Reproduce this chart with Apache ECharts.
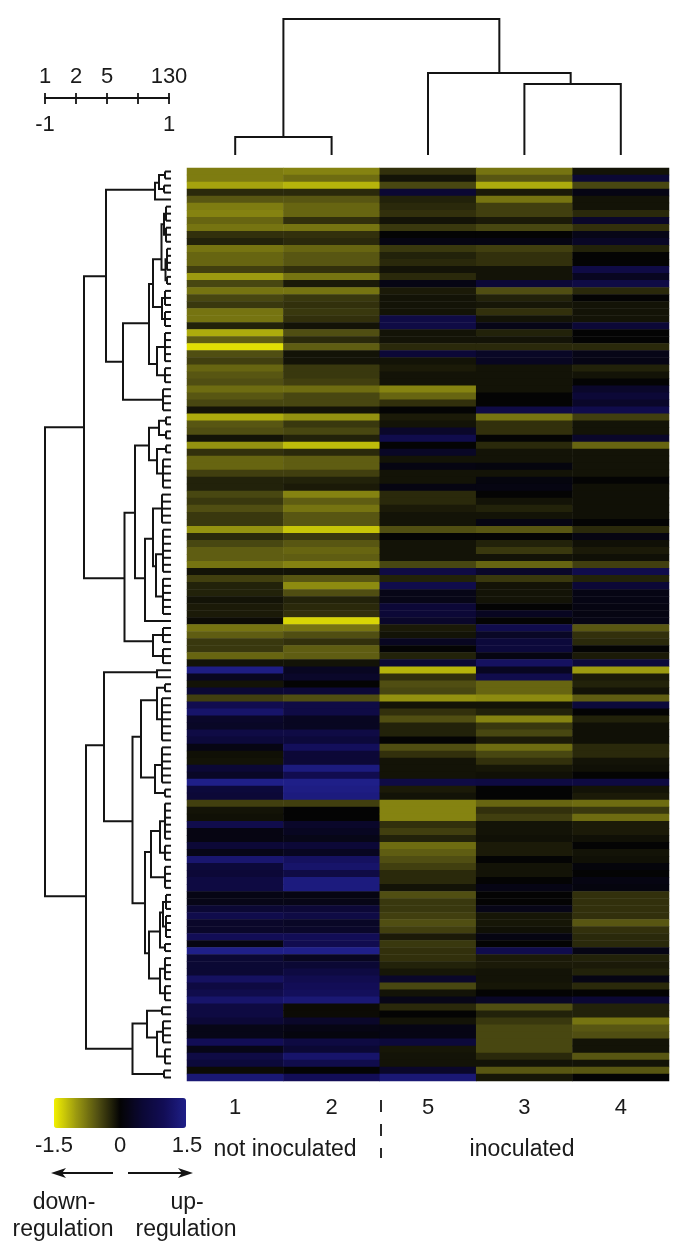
<!DOCTYPE html>
<html>
<head>
<meta charset="utf-8">
<script src="https://cdn.jsdelivr.net/npm/echarts@6/dist/echarts.min.js"></script>
<style>
  html, body { margin: 0; padding: 0; background: #fff; }
  #chart { width: 685px; height: 1254px; }
</style>
</head>
<body>
<div id="chart"></div>
<script>
// columns in plotted order, rows run top to bottom
const sampleLabels = ['1', '2', '5', '3', '4']

const sample1 = [-.8,-.8,-1.05,-.25,-.55,-.8,-.85,-.65,-.75,-.3,
  -.2,-.75,-.65,-.65,-.4,-1,-.45,-.75,-.45,-.35,
  -.75,-.75,-.2,-1.1,-.6,-1.4,-.5,-.4,-.65,-.55,
  -.5,-.7,-.55,-.45,-.1,-1.1,-.55,-.5,-.1,-.95,
  -.3,-.65,-.65,-.4,-.2,-.2,-.45,-.35,-.5,-.35,
  -.35,-.95,-.25,-.45,-.6,-.6,-.75,-.1,-.4,-.2,
  -.2,-.1,-.15,-.15,-.05,-.75,-.6,-.35,-.35,-.65,
  -.1,1.45,.3,-.1,.5,-.4,.9,1.2,.4,.35,
  .75,.6,.17,-.08,-.1,.5,.35,1.5,.6,.55,
  -.4,-.1,-.08,.85,.15,.15,.55,.2,1.25,.6,
  .55,.7,.7,.17,.2,.5,.85,.4,.4,1,
  .15,1.5,.5,.5,.5,1.1,.7,.85,1.2,.7,
  .7,.55,.2,.2,1,.2,.75,.6,-.05,1.3]
const sample2 = [-.85,-.7,-1.15,-.25,-.55,-.65,-.65,-.3,-.75,-.3,
  -.25,-.65,-.55,-.55,-.3,-.75,-.15,-.75,-.35,-.3,
  -.35,-.3,-.1,-.5,-.25,-.6,-.1,-.1,-.35,-.35,
  -.4,-.7,-.45,-.45,-.1,-.95,-.35,-.45,-.2,-1.2,
  -.25,-.6,-.6,-.4,-.2,-.15,-.85,-.6,-.75,-.55,
  -.55,-1.25,-.35,-.55,-.65,-.6,-.85,-.1,-.55,-.9,
  -.5,-.2,-.25,-.3,-1.35,-.75,-.5,-.3,-.6,-.6,
  -.1,.3,.4,0,.55,-.5,.75,.75,.3,.3,
  .75,.6,1.05,.55,.55,1.4,.9,1.5,1.45,1.4,
  -.4,0,0,.4,.3,.2,.55,.3,1.1,1.2,
  .75,1.4,1.4,.15,.2,.55,.75,.35,.4,1,
  .9,1.5,.3,.5,.7,.9,1,1.05,1.3,-.05,
  -.05,.4,.17,.1,.7,.5,1.2,.85,0,1]
const sample5 = [-.3,-.1,-.45,.5,-.2,-.25,-.3,-.1,-.35,0,
  .15,-.35,-.2,-.25,-.1,-.25,.17,-.15,-.1,-.1,
  -.1,.75,.75,-.1,-.1,-.25,.55,-.1,-.15,-.1,
  -.1,-.85,-.65,-.3,0,-.15,-.1,.4,.85,0,
  .35,-.1,.15,-.1,-.1,.15,-.25,-.25,-.15,-.1,
  -.1,-.5,0,-.1,-.1,-.1,-.45,.75,-.2,.85,
  .2,.2,.55,.55,.4,-.15,-.1,.3,0,-.2,
  .5,-1.15,-.3,-.5,-.45,-.95,-.1,-.3,-.5,-.2,
  -.2,0,-.5,-.3,-.1,-.1,-.1,.75,-.15,-.1,
  -.85,-.85,-.85,-.3,-.4,-.2,-.7,-.6,-.5,-.4,
  -.25,-.25,-.1,-.5,-.35,-.35,-.4,-.5,-.4,-.15,
  -.35,-.3,-.3,-.2,-.12,.4,-.45,-.1,.2,-.25,
  0,-.1,.17,.17,.6,-.12,-.1,-.1,.4,1.3]
const sample3 = [-.75,-.55,-1.1,-.15,-.75,-.4,-.4,-.15,-.45,0,
  .15,-.4,-.3,-.3,-.1,-.1,.55,-.5,-.2,-.12,
  -.3,-.1,.2,-.2,-.1,-.25,.35,.3,-.1,-.1,
  -.1,-.1,0,0,.75,-.75,-.3,-.3,0,-.25,
  -.1,-.1,.1,-.1,.1,.15,0,-.1,-.2,-.1,
  .15,-.55,0,-.2,-.35,-.1,-.65,.4,-.35,-.1,
  -.1,-.1,0,.3,0,.85,.35,.6,.6,.15,
  1.1,.3,.85,-.65,-.65,-.9,-.1,-.2,-.85,-.35,
  -.45,-.15,-.7,-.45,-.3,-.12,-.08,.7,0,0,
  -.65,-.3,-.4,-.1,-.1,-.08,-.15,-.15,0,-.1,
  -.1,0,.17,0,0,.2,-.12,-.12,-.08,.15,
  0,.85,-.15,-.15,-.1,-.1,-.12,0,.35,-.5,
  -.2,-.35,-.45,-.45,-.45,-.45,-.25,-.1,-.55,-.12]
const sample4 = [-.1,.5,-.45,.17,-.1,-.1,-.25,.4,-.3,.2,
  .35,-.2,0,0,.75,.3,.75,-.25,0,-.1,
  -.1,-.1,.55,0,0,-.25,.2,.17,-.2,-.1,
  0,.4,.55,.4,.85,-.4,-.1,-.1,.4,-.65,
  -.1,-.1,-.1,-.1,0,-.08,-.08,-.08,-.08,-.08,
  0,-.25,.15,-.08,-.15,-.08,-.4,.85,-.2,.55,
  .17,.17,.15,.15,.17,-.55,-.3,-.25,0,-.15,
  .6,-1,-.15,-.2,-.1,-.6,.6,0,-.2,-.08,
  -.08,-.08,-.25,-.25,-.1,-.08,0,.7,-.1,-.15,
  -.7,-.35,-.7,-.15,-.15,-.08,0,-.1,-.08,.07,
  0,.15,.1,-.3,-.3,-.3,-.3,-.55,-.3,-.25,
  -.25,.17,-.2,-.15,-.2,.17,-.25,0,.5,-.2,
  -.2,-.75,-.55,-.5,-.1,-.1,-.55,-.1,-.55,0]
const columns = [sample1, sample2, sample5, sample3, sample4]

// row dendrogram: [height, rowA, heightA, rowB, heightB]
const rowBrackets = [
  [126,36.9,87,103.7,85],[87,15.4,65,58.4,46.5],[65,3.1,16,27.6,48],[16,2.1,12,4.5,0],[12,1,6,3,7],
  [48,22.1,22,33,8],[22,16.5,18,27.9,14],[18,13,9.5,19.8,9],[9.5,8,7,14.5,5.5],[7,6.5,5,9.5,5],
  [5.5,13,4,16,4],[9,18.5,6,21.5,6],[14,25.5,6,29.5,6],
  [46.5,49.1,36,67.4,18],[36,39.5,22,58.4,26],[22,37,12,41.6,14],[12,36,5,38,5],[14,40,5,43.5,8],
  [26,52.8,18,64.5,0],[18,48.5,9,56.7,15],[15,55,8,61,8],[18,66.5,8,69.5,8],
  [85,82.2,67,125.4,38.5],[67,71.8,14,93,38.5],[14,71.5,0,72.5,0],[38.5,81,30,104.7,26],
  [30,75.8,14,86.8,16],[14,74,6,78.5,9],[16,85,9,89,6],[26,97.4,20,111.8,22],[20,94.4,11,101,6],
  [11,93,6,97.5,6],[22,108.7,11,115.4,11],[11,106,8,111,6],[8,104.5,5,108,5],[11,114,6,117.5,6],
  [38.5,121.8,24,129,7],[24,120,9,123.8,14],[14,123,8,126.5,6]
]
// leaf groups: [height, firstRow, lastRow]
const rowLeafGroups = [
  [6,0,1],[7,2,3],[5,5,7],[5,8,10],[4,11,14],[4,15,16],[6,17,19],[6,20,22],[6,23,27],[6,28,30],[8,31,34],
  [5,35,36],[5,37,38],[5,39,40],[8,41,45],[9,46,50],[8,51,57],[8,58,63],[8,65,67],[8,68,70],
  [6,73,74],[9,75,81],[9,82,87],[6,88,89],[6,90,95],[6,96,98],[6,99,102],[5,103,105],[5,106,109],
  [6,110,111],[6,112,115],[6,116,118],[9,119,120],[8,121,124],[6,125,127],[7,128,129]
]
// sample dendrogram: [height, xA, heightA, xB, heightB]
const sampleBrackets = [
  [136,1,18,3.24,82],[18,.5,0,1.5,0],[82,2.5,0,3.98,71],[71,3.5,0,4.5,0]
]

const scaleTop = ['1', '2', '5', '', '130']
const scaleBottom = ['-1', '', '', '', '1']

const fontName = '"Liberation Sans", Arial, sans-serif'
const ink = '#141414'

let heatData = []
columns.forEach((col, c) => col.forEach((v, r) => heatData.push([c, r, v])))

let rowIndex = []
for (let i = 0; i < sample1.length; i++) rowIndex.push(String(i))

// paths for the row tree
let rowPaths = rowBrackets.map(b => [[b[2], b[1]], [b[0], b[1]], [b[0], b[3]], [b[4], b[3]]])
rowLeafGroups.forEach(g => {
  rowPaths.push([[g[0], g[1] + .5], [g[0], g[2] + .5]])
  for (let r = g[1]; r <= g[2]; r++) rowPaths.push([[g[0], r + .5], [0, r + .5]])
})
const samplePaths = sampleBrackets.map(b => [[b[1], b[2]], [b[1], b[0]], [b[3], b[0]], [b[3], b[4]]])

function treeSeries(paths, xIdx, yIdx, width) {
  return {
    type: 'custom',
    xAxisIndex: xIdx,
    yAxisIndex: yIdx,
    silent: true,
    data: paths.map((p, i) => [i]),
    renderItem: (params, api) => ({
      type: 'polyline',
      shape: { points: paths[params.dataIndex].map(pt => api.coord(pt)) },
      style: { stroke: ink, lineWidth: width, fill: null }
    })
  }
}

function label(text, x, y, size, align) {
  return {
    type: 'text', x: x, y: y, silent: true,
    style: { text: text, fontSize: size, fontFamily: fontName, fill: '#1a1a1a', align: align || 'center', verticalAlign: 'middle' }
  }
}

function arrowLine(x1, x2, y) {
  const dir = x2 > x1 ? 1 : -1
  return [
    { type: 'line', silent: true, shape: { x1: x1, y1: y, x2: x2 - dir * 8, y2: y }, style: { stroke: ink, lineWidth: 2 } },
    { type: 'polygon', silent: true, shape: { points: [[x2, y], [x2 - dir * 15, y - 5], [x2 - dir * 11, y], [x2 - dir * 15, y + 5]] }, style: { fill: ink } }
  ]
}

const hidden = { show: false }

const chart = echarts.init(document.getElementById('chart'))
chart.setOption({
  animation: false,
  backgroundColor: '#fff',
  textStyle: { fontFamily: fontName },
  grid: [
    { left: 187, top: 168, width: 482, height: 913 },
    { left: 41, top: 168, width: 130, height: 913 },
    { left: 187, top: 19, width: 482, height: 136 },
    { left: 45, top: 97, width: 124, height: 1 }
  ],
  xAxis: [
    { gridIndex: 0, type: 'category', data: sampleLabels, position: 'bottom',
      axisLine: hidden, axisTick: hidden, splitLine: hidden,
      axisLabel: { fontSize: 22, color: '#1a1a1a', margin: 16, fontFamily: fontName } },
    { gridIndex: 1, type: 'value', min: 0, max: 130, inverse: true, show: false },
    { gridIndex: 2, type: 'value', min: 0, max: 5, show: false },
    { gridIndex: 3, type: 'value', min: 0, max: 4, interval: 1, position: 'top',
      axisLine: { lineStyle: { color: ink, width: 1.8 } },
      axisTick: { show: true, length: 5, lineStyle: { color: ink, width: 1.8 } },
      splitLine: hidden,
      axisLabel: { fontSize: 22, color: '#1a1a1a', margin: 9, showMinLabel: true, showMaxLabel: true,
        fontFamily: fontName, formatter: (v) => scaleTop[v] } },
    { gridIndex: 3, type: 'value', min: 0, max: 4, interval: 1, position: 'bottom',
      axisLine: { lineStyle: { color: ink, width: 1.8 } },
      axisTick: { show: true, length: 6, lineStyle: { color: ink, width: 1.8 } },
      splitLine: hidden,
      axisLabel: { fontSize: 22, color: '#1a1a1a', margin: 16, showMinLabel: true, showMaxLabel: true,
        fontFamily: fontName, formatter: (v) => scaleBottom[v] } }
  ],
  yAxis: [
    { gridIndex: 0, type: 'category', data: rowIndex, inverse: true, show: false },
    { gridIndex: 1, type: 'value', min: 0, max: 130, inverse: true, show: false },
    { gridIndex: 2, type: 'value', min: 0, max: 136, show: false },
    { gridIndex: 3, type: 'value', min: 0, max: 1, show: false }
  ],
  visualMap: {
    type: 'continuous',
    seriesIndex: 0,
    dimension: 2,
    min: -1.5,
    max: 1.5,
    orient: 'horizontal',
    calculable: false,
    realtime: false,
    left: 54,
    top: 1098,
    padding: 0,
    itemWidth: 30,
    itemHeight: 132,
    text: null,
    showLabel: false,
    inRange: { color: ['#f2f000', '#9c9a10', '#504e12', '#040404', '#0b0834', '#120d56', '#1f1f88'] }
  },
  series: [
    { type: 'heatmap', xAxisIndex: 0, yAxisIndex: 0, data: heatData, progressive: 0, silent: true,
      itemStyle: { borderWidth: 0 } },
    treeSeries(rowPaths, 1, 1, 2),
    treeSeries(samplePaths, 2, 2, 2)
  ],
  graphic: [
    label('-1.5', 54, 1146, 22),
    label('0', 120, 1146, 22),
    label('1.5', 187, 1146, 22),
    label('not inoculated', 285, 1150, 23),
    label('inoculated', 522, 1150, 23),
    label('down-', 64, 1203, 23),
    label('regulation', 63, 1230, 23),
    label('up-', 187, 1203, 23),
    label('regulation', 186, 1230, 23),
    { type: 'line', silent: true, shape: { x1: 381, y1: 1100, x2: 381, y2: 1158 },
      style: { stroke: ink, lineWidth: 1.8, lineDash: [12, 12] } }
  ].concat(arrowLine(113, 51, 1173), arrowLine(128, 193, 1173))
})
</script>
</body>
</html>
